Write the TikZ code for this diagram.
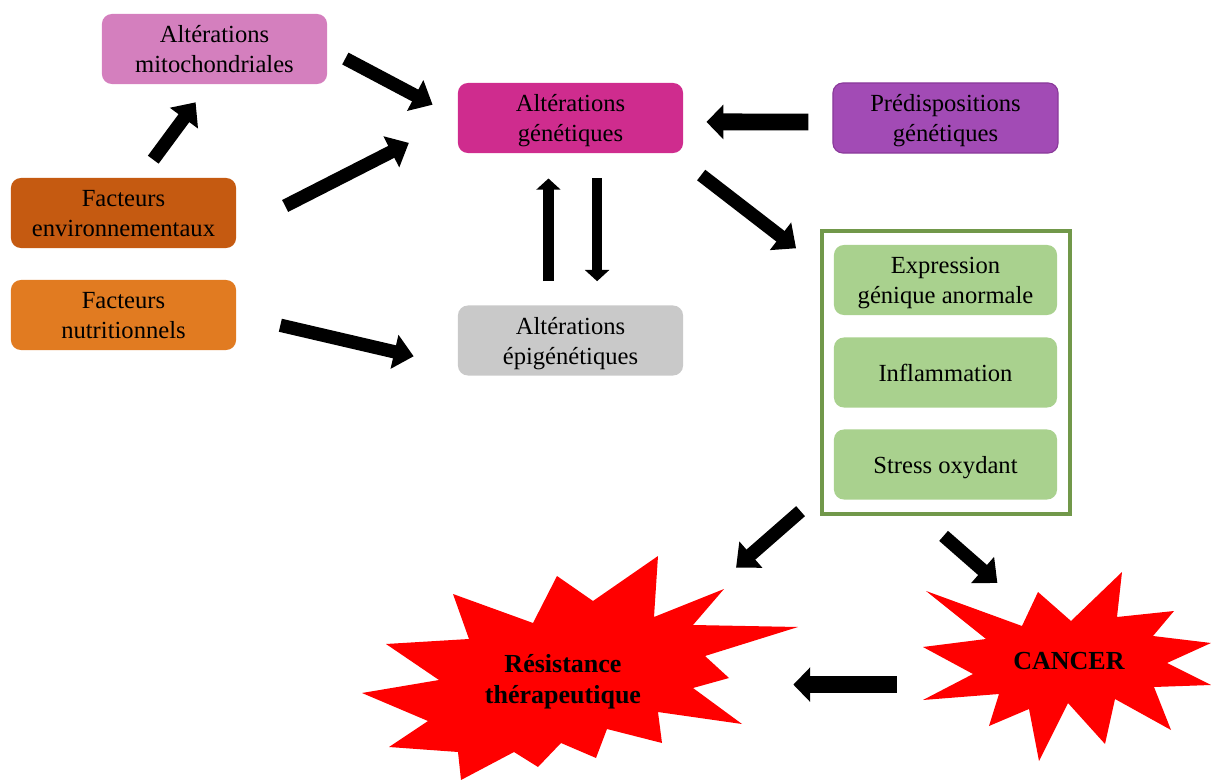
\documentclass[tikz,border=0pt]{standalone}
\usepackage{fontspec}
\setmainfont{Liberation Serif}
\usepackage{xcolor}
\usetikzlibrary{arrows.meta}

\definecolor{mitopink}{HTML}{D47FBE}
\definecolor{envbrown}{HTML}{C55A11}
\definecolor{nutorange}{HTML}{E17B21}
\definecolor{genmagenta}{HTML}{CF2C8E}
\definecolor{predpurple}{HTML}{A24BB5}
\definecolor{predborder}{HTML}{8A3A9A}
\definecolor{epigray}{HTML}{C9C9C9}
\definecolor{effgreen}{HTML}{A9D18E}
\definecolor{framegreen}{HTML}{71984A}

\begin{document}
\begin{tikzpicture}[
      x=0.025cm, y=-0.025cm,
      font=\fontsize{17.5}{21.3}\selectfont,
      box/.style={rounded corners=7pt, align=center, inner sep=2pt,
                  text depth=0pt,
                  minimum width=5.625cm, minimum height=1.75cm},
      effect/.style={box, fill=effgreen, minimum width=5.575cm},
      frame/.style={draw=framegreen, line width=2.6pt, minimum width=6.2cm,
                    minimum height=7.075cm},
      burst/.style={fill=red},
      burstlbl/.style={font=\fontsize{18.5}{22}\selectfont\bfseries,
                       align=center, inner sep=0pt, text depth=0pt},
      fat/.style={line width=9.5pt, -{Triangle[length=14pt, width=24pt]}},
      wide/.style={line width=12pt, -{Triangle[length=12pt, width=24pt]}},
      slim/.style={line width=7.5pt, -{Triangle[length=8pt, width=17pt]}},
    ]
    \useasboundingbox (0,0) rectangle (1211,780);

    % --- the two explosions at the bottom ---------------------------------
    \fill[burst] (658,556) -- (654,617) -- (724,589) -- (693,625) -- (798,627)
      -- (705,656) -- (729,678) -- (693,688) -- (742,724) -- (658,712)
      -- (662,743) -- (607,729) -- (596,758) -- (561,743) -- (538,767)
      -- (514,752) -- (461,780) -- (458,752) -- (389,747) -- (428,721)
      -- (362,693) -- (439,680) -- (386,644) -- (469,639) -- (453,594)
      -- (533,623) -- (557,576) -- (593,601) -- cycle;
    \fill[burst] (1122,572) -- (1117,617) -- (1174,611) -- (1153,636)
      -- (1211,643) -- (1167,663) -- (1211,685) -- (1154,687) -- (1171,730)
      -- (1115,699) -- (1105,744) -- (1068,703) -- (1039,761) -- (1029,709)
      -- (989,726) -- (999,694) -- (923,700) -- (973,674) -- (923,647)
      -- (986,639) -- (926,591) -- (1022,626) -- (1038,592) -- (1071,621)
      -- cycle;
    \node[burstlbl, minimum width=4cm, minimum height=1.5cm] (res)
      at (563,679) {Résistance\\thérapeutique};
    \node[burstlbl, minimum width=2.8cm, minimum height=0.75cm] (cancer)
      at (1069,661) {CANCER};

    % --- causes on the left -----------------------------------------------
    \node[box, fill=mitopink]  (mito) at (214.5,49)  {Altérations\\mitochondriales};
    \node[box, fill=envbrown]  (env)  at (123.5,213) {Facteurs\\environnementaux};
    \node[box, fill=nutorange] (nutr) at (123.5,315) {Facteurs\\nutritionnels};

    % --- central alterations ----------------------------------------------
    \node[box, fill=genmagenta] (gen) at (570.5,118)   {Altérations\\génétiques};
    \node[box, fill=epigray]    (epi) at (570.5,340.5) {Altérations\\épigénétiques};
    \node[box, fill=predpurple, draw=predborder, line width=0.8pt] (pred)
      at (945.5,118) {Prédispositions\\génétiques};

    % --- effects, grouped in a frame --------------------------------------
    \node[frame] (frame) at (946,372.5) {};
    \node[effect] (expr)   at (945.5,280)   {Expression\\génique anormale};
    \node[effect] (infl)   at (945.5,372.5) {Inflammation};
    \node[effect] (stress) at (945.5,464.5) {Stress oxydant};

    % --- arrows -----------------------------------------------------------
    \draw[fat, shorten <=0.51cm, shorten >=0.71cm] (mito.east) -- (gen.west);
    \draw[fat, shorten <=0.56cm, shorten >=0.56cm] (env.65) -- (mito.-99);
    \draw[fat, shorten <=1.37cm, shorten >=1.37cm] (env.-9) -- (gen.west);
    \draw[fat, shorten <=1.13cm, shorten >=1.13cm] (nutr.east) -- (epi.193);
    \draw[wide, shorten <=0.6cm, shorten >=0.58cm] (pred.182) -- (gen.-2);
    \draw[slim, shorten <=0.6cm, shorten >=0.63cm] (epi.122) -- (gen.-122);
    \draw[slim, shorten <=0.63cm, shorten >=0.6cm] (gen.-53) -- (epi.53);
    \draw[fat, shorten <=0.89cm, shorten >=0.76cm] (gen.-19) -- (frame.140);

    % --- frame -> outcomes ------------------------------------------------
    \draw[fat, shorten <=0.65cm, shorten >=3.08cm] (frame.224) -- (res.north east);
    \draw[fat, shorten <=0.76cm, shorten >=2.38cm] (frame.-100) -- (cancer.north);
    \draw[wide, shorten <=2.9cm, shorten >=3.75cm]
      (cancer.west |- res.-4) -- (res.-4);
  \end{tikzpicture}
\end{document}
